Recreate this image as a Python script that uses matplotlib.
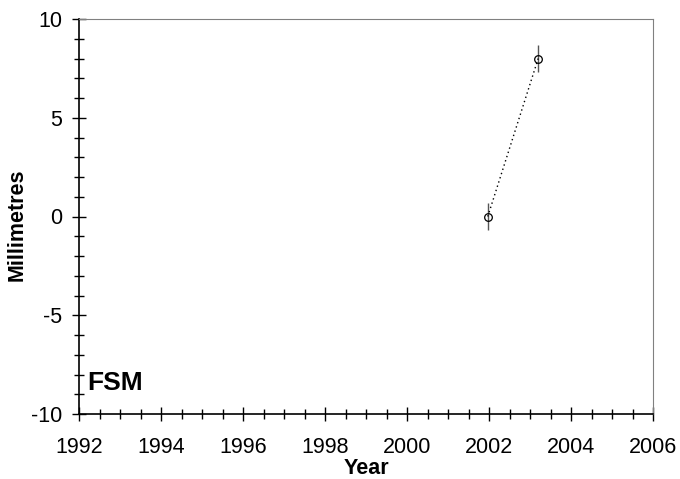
import matplotlib
matplotlib.use("Agg")
import matplotlib.pyplot as plt
from matplotlib.ticker import MultipleLocator

plt.rcParams['font.family'] = ['Liberation Sans', 'DejaVu Sans']
plt.rcParams['axes.unicode_minus'] = False

# FSM station
years = [2001.97, 2003.20]
mm = [0.0, 8.0]
err = [0.68, 0.67]
station = "FSM"

fig = plt.figure(figsize=(6.8, 4.79), dpi=100)
ax = fig.add_axes([79/680, 1 - 414/479, 574/680, 395/479])

ax.errorbar(years, mm, yerr=err, fmt='none', ecolor='#555555', elinewidth=1.0)
ax.plot(years, mm, color='black', linestyle=(0, (1, 2.2)), linewidth=1.0)
ax.plot(years, mm, 'o', markerfacecolor='none', markeredgecolor='black',
        markersize=5.5, markeredgewidth=0.9, linestyle='none')

ax.set_xlim(1992, 2006)
ax.set_ylim(-10, 10)
ax.xaxis.set_major_locator(MultipleLocator(2))
ax.xaxis.set_minor_locator(MultipleLocator(0.5))
ax.yaxis.set_major_locator(MultipleLocator(5))
ax.yaxis.set_minor_locator(MultipleLocator(1))
ax.tick_params(which='both', direction='inout', top=False, right=False, labelsize=15.5, width=1)
ax.tick_params(which='major', length=10.5)
ax.tick_params(axis='x', which='major', pad=11)
ax.tick_params(axis='y', which='major', pad=7)
ax.tick_params(which='minor', length=7)

for s in ['top', 'right']:
    ax.spines[s].set_color('#808080')
for s in ['left', 'bottom']:
    ax.spines[s].set_linewidth(1.2)

ax.set_xlabel("Year", fontsize=15.5, fontweight='bold', labelpad=0.5)
ax.set_ylabel("Millimetres", fontsize=15.5, fontweight='bold')
ax.yaxis.set_label_coords(-0.089, 0.478)
ax.text(0.014, 0.061, station, transform=ax.transAxes, fontsize=19, fontweight='bold')

fig.savefig("out.png", dpi=100)
